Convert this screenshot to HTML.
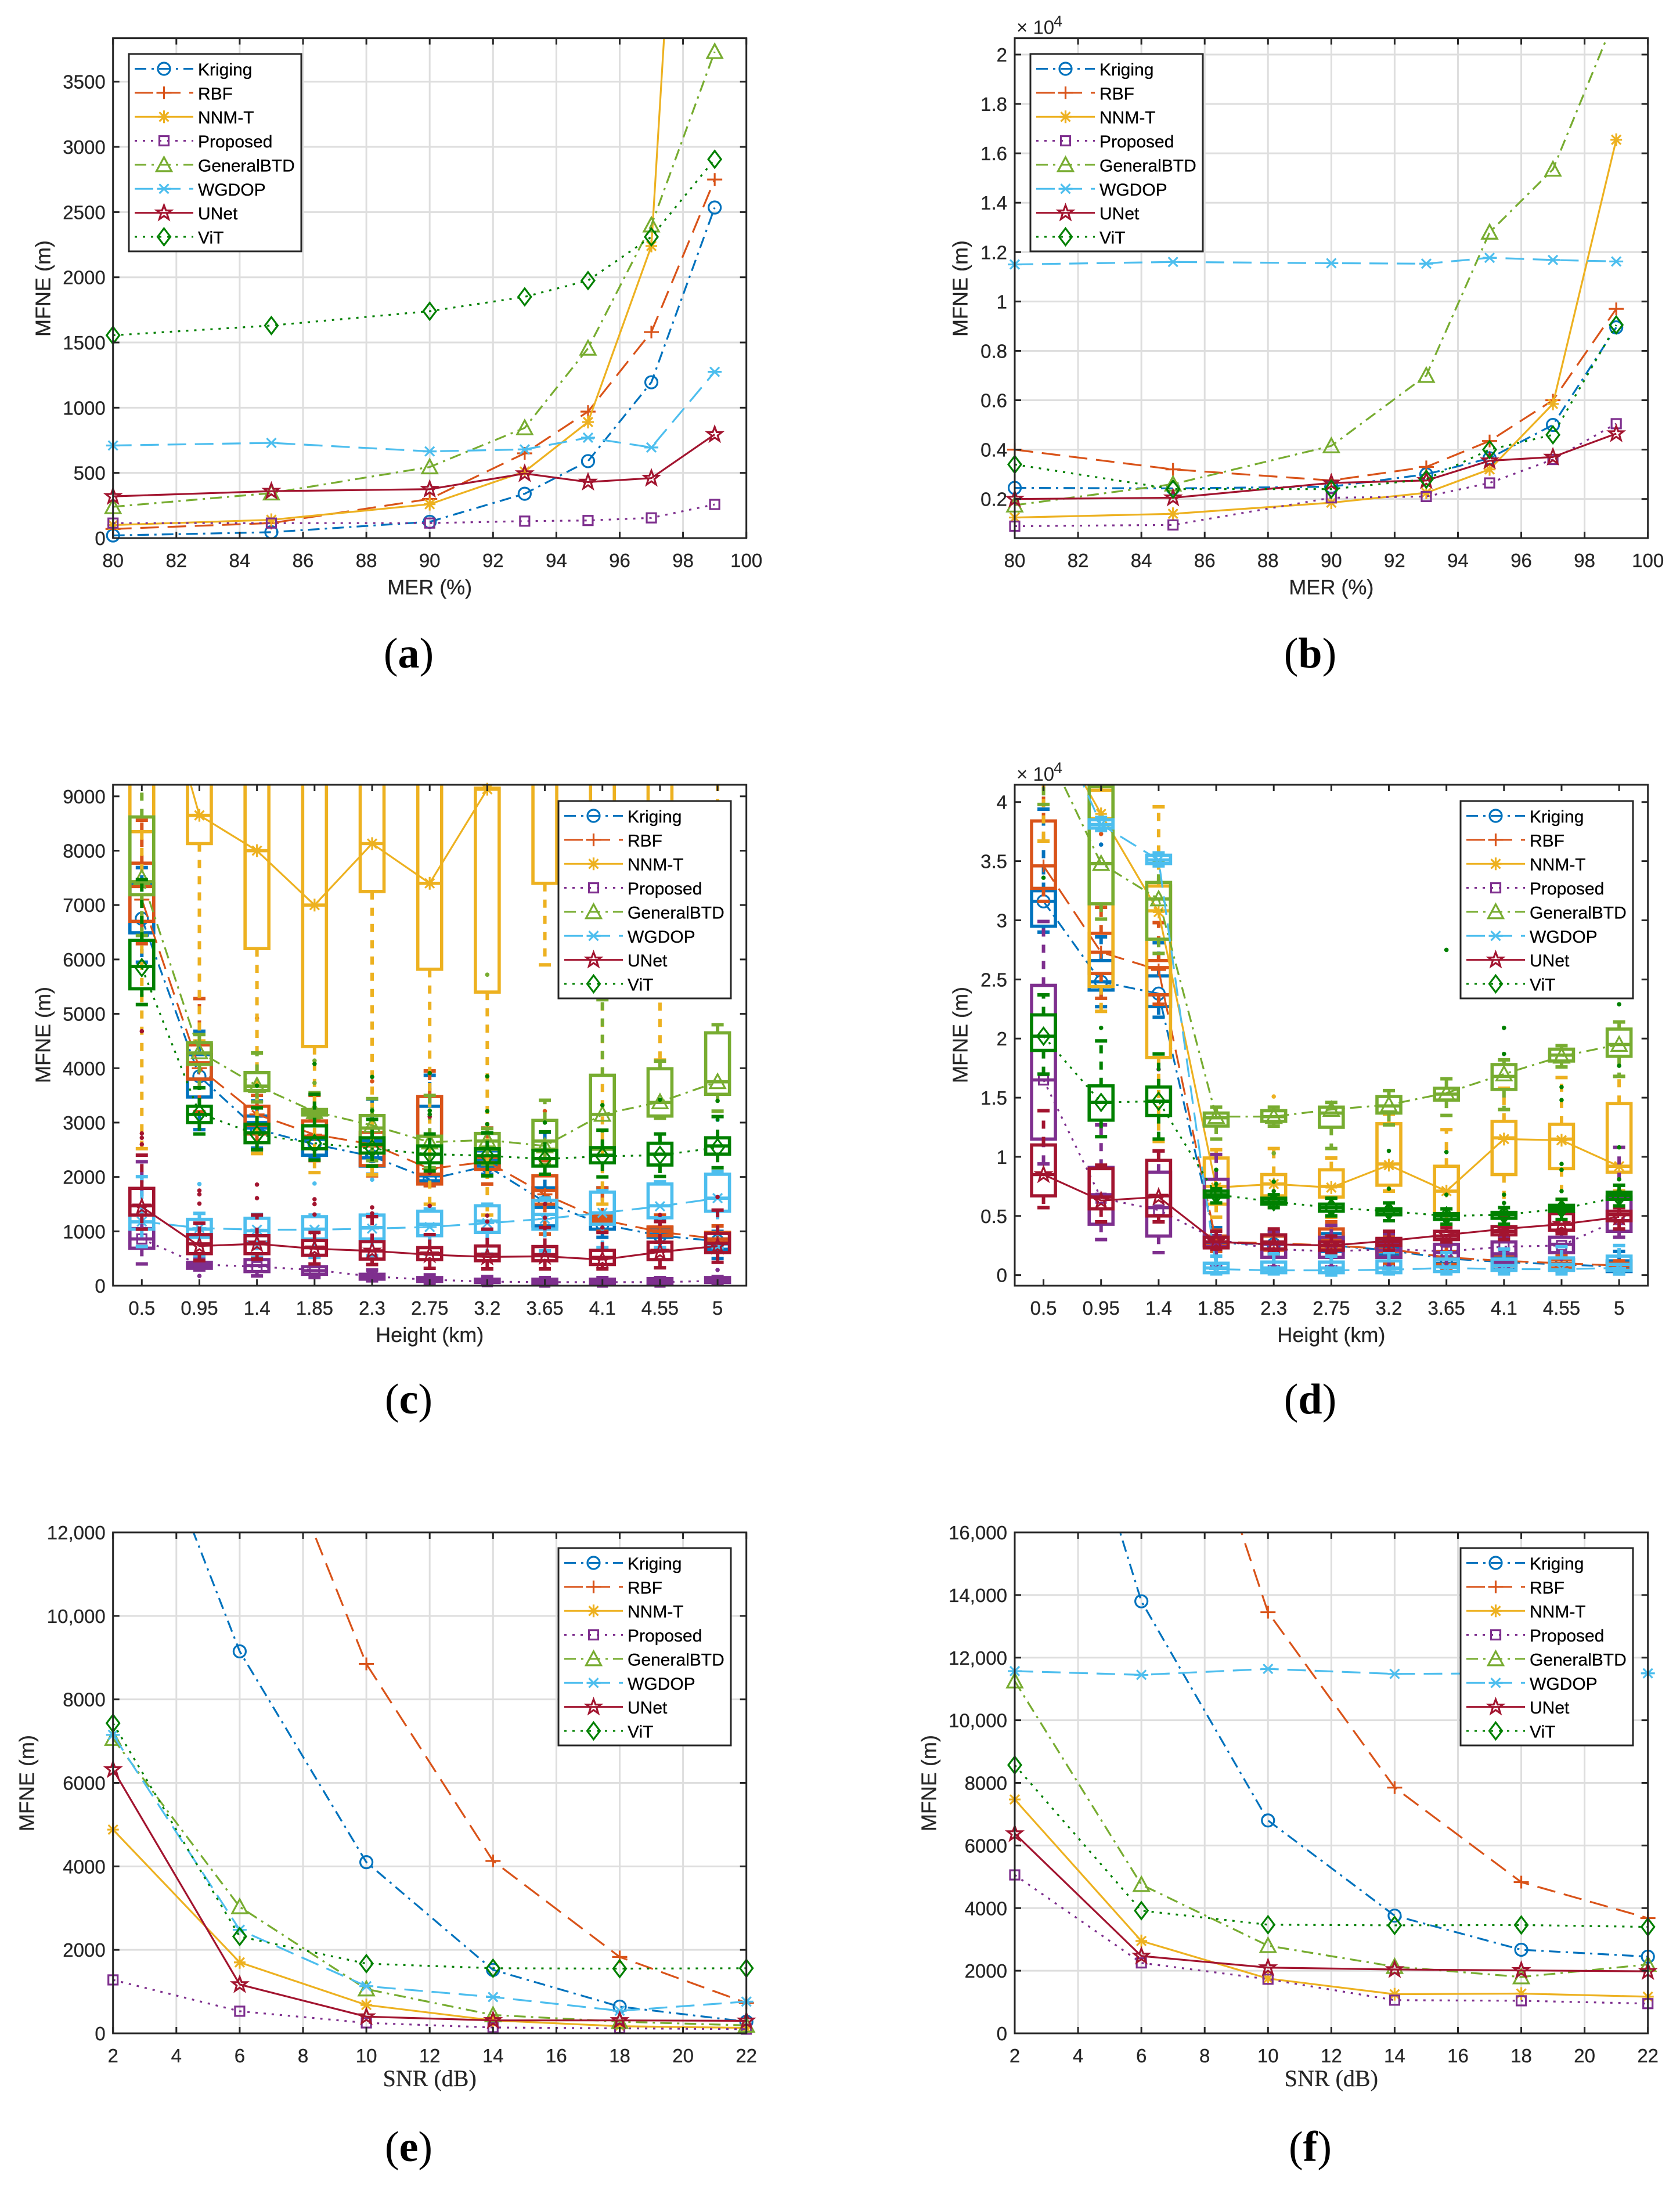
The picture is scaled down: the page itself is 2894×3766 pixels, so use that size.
<!DOCTYPE html>
<html lang="en">
<head>
<meta charset="utf-8">
<title>MFNE comparison charts</title>
<style>
html,body{margin:0;padding:0;background:#fff;}
svg{display:block;font-family:"Liberation Sans",Arial,sans-serif;}
</style>
</head>
<body>
<svg id="figure" xmlns="http://www.w3.org/2000/svg" width="2894" height="3766" viewBox="0 0 2894 3766">
<rect x="0" y="0" width="2894" height="3766" fill="#ffffff"/>
<defs id="clip-defs"></defs>
<g id="panel-a"></g>
<g id="panel-b"></g>
<g id="panel-c"></g>
<g id="panel-d"></g>
<g id="panel-e"></g>
<g id="panel-f"></g>
</svg>
<script>
/* ---------- shared categories ---------- */
const seriesNames = ['Kriging','RBF','NNM-T','Proposed','GeneralBTD','WGDOP','UNet','ViT'];
const merValues = [80,85,90,93,95,97,99];
const merTicks = [80,82,84,86,88,90,92,94,96,98,100];
const heightCategories = ['0.5','0.95','1.4','1.85','2.3','2.75','3.2','3.65','4.1','4.55','5'];
const snrValues = [2,6,10,14,18,22];
const snrTicks = [2,4,6,8,10,12,14,16,18,20,22];

/* ---------- panel a ---------- */
const aKriging = [20,45,125,340,590,1195,2535];
const aRBF = [70,115,300,650,970,1580,2750];
const aNNMT = [100,140,260,510,890,2240,10200];
const aProposed = [115,115,115,130,135,155,258];
const aGeneralBTD = [240,345,545,845,1455,2400,3730];
const aWGDOP = [710,730,665,680,770,695,1275];
const aUNet = [320,360,375,495,430,460,795];
const aViT = [1555,1630,1740,1850,1975,2310,2905];
const aYTicks = [0,500,1000,1500,2000,2500,3000,3500];
const aYLabels = ['0','500','1000','1500','2000','2500','3000','3500'];

/* ---------- panel b (x 10^4) ---------- */
const bKriging = [.245,.243,.25,.30,.365,.50,.895];
const bRBF = [.40,.32,.275,.33,.435,.60,.97];
const bNNMT = [.125,.14,.185,.225,.32,.585,1.655];
const bProposed = [.09,.095,.205,.21,.265,.36,.505];
const bGeneralBTD = [.175,.26,.415,.70,1.28,1.535,2.16];
const bWGDOP = [1.15,1.16,1.155,1.153,1.177,1.168,1.162];
const bUNet = [.20,.205,.265,.275,.355,.37,.465];
const bViT = [.34,.24,.24,.28,.40,.46,.905];
const bYTicks = [.2,.4,.6,.8,1,1.2,1.4,1.6,1.8,2];
const bYLabels = ['0.2','0.4','0.6','0.8','1','1.2','1.4','1.6','1.8','2'];

/* ---------- panel c: means ---------- */
const cMeanKriging = [6750,3850,2880,2600,2380,1960,2200,1540,1130,920,820];
const cMeanRBF = [7100,4000,3150,2780,2600,2150,2280,1680,1210,990,860];
const cMeanNNMT = [12400,8650,8000,7000,8130,7400,9130,16000,18000,16000,15000];
const cMeanProposed = [860,390,350,290,170,110,75,65,65,65,90];
const cMeanGeneralBTD = [7500,4300,3680,3200,2950,2640,2680,2570,3150,3380,3750];
const cMeanWGDOP = [1180,1060,1030,1030,1050,1080,1150,1230,1340,1460,1610];
const cMeanUNet = [1450,730,770,680,640,570,530,540,480,620,730];
const cMeanViT = [5850,3170,2780,2620,2520,2420,2390,2330,2380,2400,2540];
const cYTicks = [0,1000,2000,3000,4000,5000,6000,7000,8000,9000];
const cYLabels = ['0','1000','2000','3000','4000','5000','6000','7000','8000','9000'];

/* panel c: box stats, each entry = lower whisker, Q1, median, Q3, upper whisker */
const cBoxKriging = [[5950,6490,6700,7400,7690],[2870,3470,3800,4250,4680],[2530,2900,3000,3120,3400],[2360,2400,2690,2940,3510],[2050,2200,2350,2660,3430],[1840,1930,2020,3300,3870],[2050,2200,2300,2480,2900],[1070,1100,1440,1800,2820],[890,1040,1160,1250,1800],[700,890,950,1070,1200],[500,670,770,860,1000]];
const cBoxRBF = [[6290,6700,7340,7770,8560],[3200,3800,4100,4430,5280],[2500,2790,2950,3300,3500],[2300,2520,2750,3030,3500],[2020,2210,2570,2820,2900],[1840,1870,2050,3480,3950],[1870,2140,2360,2510,2900],[950,1500,1750,2020,2300],[1000,1160,1220,1280,1800],[800,920,1010,1080,1300],[700,800,860,980,1100]];
const cBoxNNMT = [[2520,8350,9800,12000,15000],[4500,8130,8650,10000,14000],[2430,6200,8000,14000,16000],[2080,4400,7000,13000,16000],[2040,7250,8130,12000,16000],[1500,5820,7400,13000,16000],[1300,5400,9130,9150,12000],[5900,7400,10500,14000,16000],[1500,7000,11000,14000,16000],[4150,7000,11000,14000,16000],[5600,6000,7500,8800,15000]];
const cBoxProposed = [[400,690,860,1050,2280],[290,320,370,430,490],[180,260,370,480,520],[150,210,275,350,400],[90,120,170,210,290],[50,80,120,150,200],[30,60,85,120,170],[5,30,70,120,150],[5,30,70,120,150],[5,30,80,130,150],[30,60,100,150,170]];
const cBoxGeneralBTD = [[6440,7190,7430,8620,9600],[3640,4070,4280,4470,4620],[3380,3590,3670,3920,4280],[3090,3140,3190,3240,3550],[2300,2600,2900,3130,3440],[2170,2420,2570,2750,3500],[2230,2510,2660,2800,2890],[2230,2510,2660,3040,3410],[2860,2510,3150,3870,5260],[3080,3120,3370,3990,4130],[3210,3520,3750,4650,4800]];
const cBoxWGDOP = [[720,1040,1175,1300,2005],[550,890,1040,1220,1330],[520,800,1010,1240,1310],[520,860,1040,1270,1300],[550,860,1070,1300,1310],[580,920,1130,1370,1410],[580,980,1190,1470,1500],[640,1040,1310,1570,1610],[700,1130,1340,1720,1750],[700,1250,1470,1870,1910],[700,1370,1610,2050,2100]];
const cBoxUNet = [[1040,1300,1470,1790,2400],[460,590,770,940,1150],[490,590,770,920,1300],[400,560,700,830,980],[390,490,640,810,1270],[320,480,590,700,940],[310,460,580,730,1040],[310,460,570,720,1070],[310,390,520,650,980],[330,480,640,800,1180],[430,610,780,960,1390]];
const cBoxViT = [[5170,5460,5870,6350,7470],[2790,3000,3150,3300,3640],[2500,2630,2810,2970,3270],[2310,2520,2720,2940,3520],[2200,2440,2600,2720,3060],[2110,2260,2420,2570,2790],[2020,2260,2390,2520,2810],[2050,2200,2340,2490,2830],[2000,2260,2400,2540,2860],[2010,2220,2420,2620,2790],[2170,2420,2570,2720,3110]];

/* panel c: outliers, each entry = category index, value */
const cOutliersRBF = [[2,4920],[3,3500],[4,3760],[6,2750],[7,3210]];
const cOutliersGeneralBTD = [[3,4140],[3,3730],[6,5720]];
const cOutliersWGDOP = [[1,1870],[3,1880],[4,1950],[10,3050]];
const cOutliersUNet = [[0,4680],[0,2800],[0,2720],[0,2600],[1,1750],[1,1680],[1,1510],[2,1860],[2,1610],[3,1590],[3,1500],[3,1310],[4,1440],[4,1330],[5,3110],[5,2080],[5,1470],[6,1290],[6,1180],[7,1500],[7,1250],[8,1070],[9,1300],[10,1630]];
const cOutliersProposed = [[1,180],[10,290]];
const cOutliersViT = [[2,3680],[3,4080],[4,3840],[4,3220],[5,3910],[5,3220],[5,3150],[6,3850],[6,3210],[6,2970],[7,3000],[8,3320],[9,3420],[10,3400]];

/* ---------- panel d (x 10^4): means ---------- */
const dMeanKriging = [3.16,2.48,2.38,.27,.26,.25,.21,.14,.11,.09,.07];
const dMeanRBF = [3.46,2.73,2.58,.28,.27,.25,.22,.15,.12,.10,.08];
const dMeanNNMT = [4.76,3.9,3.07,.74,.77,.74,.93,.71,1.15,1.14,.92];
const dMeanProposed = [1.65,.65,.55,.30,.22,.20,.22,.20,.24,.25,.47];
const dMeanGeneralBTD = [4.5,3.48,3.18,1.34,1.34,1.40,1.44,1.54,1.70,1.85,1.95];
const dMeanWGDOP = [4.9,3.81,3.51,.05,.04,.04,.045,.06,.05,.05,.06];
const dMeanUNet = [.85,.63,.66,.28,.26,.25,.29,.34,.39,.43,.49];
const dMeanViT = [2.02,1.46,1.47,.68,.62,.57,.54,.50,.51,.56,.66];
const dYTicks = [0,.5,1,1.5,2,2.5,3,3.5,4];
const dYLabels = ['0','0.5','1','1.5','2','2.5','3','3.5','4'];

/* panel d: box stats, each entry = lower whisker, Q1, median, Q3, upper whisker */
const dBoxKriging = [[2.9,2.95,3.16,3.25,3.94],[2.27,2.41,2.48,2.66,2.86],[2.18,2.27,2.37,2.53,2.81],[.20,.25,.27,.32,.40],[.18,.22,.27,.33,.37],[.15,.20,.25,.35,.42],[.10,.17,.23,.30,.36],[.06,.10,.14,.20,.27],[.03,.05,.10,.16,.22],[.03,.05,.09,.13,.17],[.01,.03,.07,.12,.20]];
const dBoxRBF = [[3.16,3.27,3.46,3.84,4.3],[2.34,2.55,2.73,2.89,3.11],[2.29,2.37,2.60,2.66,2.98],[.20,.25,.28,.33,.38],[.17,.21,.26,.33,.37],[.18,.22,.30,.39,.45],[.10,.15,.20,.28,.33],[.05,.09,.14,.20,.25],[.05,.08,.11,.17,.22],[.04,.06,.10,.13,.17],[.03,.05,.08,.10,.12]];
const dBoxNNMT = [[3.67,4.3,4.6,5,6],[2.23,2.44,3.86,4.10,4.6],[1.13,1.84,3.08,3.29,3.96],[.49,.60,.75,.99,1.06],[.57,.67,.77,.85,1.07],[.49,.66,.75,.89,.99],[.71,.76,.94,1.28,1.36],[.42,.52,.71,.92,1.23],[.29,.85,1.16,1.30,1.58],[.64,.90,1.15,1.275,1.67],[.71,.87,.92,1.45,1.68]];
const dBoxProposed = [[.94,1.15,1.65,2.45,2.99],[.30,.43,.68,.91,1.27],[.19,.33,.57,.87,1.05],[.08,.24,.28,.81,1.02],[.07,.15,.26,.34,.37],[.07,.15,.21,.32,.42],[.07,.15,.21,.26,.35],[.07,.135,.19,.26,.30],[.06,.11,.18,.28,.32],[.09,.19,.26,.32,.37],[.32,.37,.46,.66,1.08]];
const dBoxGeneralBTD = [[3.98,4.4,4.6,5,6],[3.01,3.14,3.48,4.13,4.5],[2.72,2.84,3.18,3.32,3.5],[1.15,1.26,1.33,1.37,1.42],[1.26,1.30,1.34,1.39,1.42],[1.07,1.25,1.37,1.42,1.46],[1.27,1.37,1.43,1.51,1.56],[1.35,1.48,1.53,1.58,1.66],[1.40,1.57,1.68,1.78,1.82],[1.76,1.81,1.86,1.91,1.94],[1.68,1.85,1.95,2.08,2.14]];
const dBoxWGDOP = [[4.3,4.5,4.9,5.2,5.5],[3.76,3.78,3.81,3.85,3.87],[3.46,3.48,3.51,3.55,3.57],[.01,.02,.06,.10,.16],[.01,.02,.06,.11,.18],[0,.02,.06,.11,.16],[.01,.02,.06,.12,.19],[.01,.03,.07,.135,.19],[.01,.04,.08,.135,.22],[.01,.04,.09,.145,.24],[.01,.04,.09,.16,.25]];
const dBoxUNet = [[.57,.67,.85,1.10,1.39],[.45,.56,.66,.90,.93],[.45,.50,.67,.97,1.05],[.22,.23,.28,.32,.37],[.21,.22,.28,.34,.39],[.19,.21,.25,.28,.33],[.21,.25,.28,.31,.37],[.28,.30,.33,.37,.40],[.30,.34,.37,.41,.49],[.35,.38,.43,.52,.57],[.39,.46,.51,.54,.57]];
const dBoxViT = [[1.70,1.90,2.02,2.20,2.37],[1.17,1.31,1.46,1.60,1.98],[1.15,1.35,1.47,1.59,1.87],[.61,.66,.68,.71,.73],[.57,.60,.62,.65,.68],[.50,.54,.57,.60,.65],[.46,.51,.54,.56,.61],[.43,.47,.50,.52,.56],[.43,.48,.51,.53,.57],[.47,.54,.565,.59,.64],[.585,.64,.675,.70,.76]];

/* panel d: outliers, each entry = category index, value */
const dOutliersKriging = [[1,3.64]];
const dOutliersRBF = [[1,3.73]];
const dOutliersNNMT = [[4,1.51]];
const dOutliersProposed = [[2,1.74]];
const dOutliersGeneralBTD = [[4,1.03]];
const dOutliersViT = [[0,3.36],[1,2.09],[3,.89],[3,.77],[4,.79],[4,.71],[6,1.05],[6,.73],[7,2.75],[7,1.04],[7,.68],[8,2.09],[8,1.87],[8,.68],[8,.61],[9,1.59],[9,1.48],[9,.94],[9,.89],[9,.71],[10,2.29],[10,1.77],[10,1.08],[10,.81]];

/* ---------- panel e ---------- */
const eKriging = [16960,9150,4100,1520,640,280];
const eRBF = [24000,16400,8850,4130,1830,730];
const eNNMT = [4880,1700,680,310,170,130];
const eProposed = [1280,530,250,140,120,100];
const eGeneralBTD = [7060,3030,1060,440,280,190];
const eWGDOP = [7150,2480,1130,870,540,760];
const eUNet = [6320,1170,400,310,310,300];
const eViT = [7430,2320,1670,1560,1550,1560];
const eYTicks = [0,2000,4000,6000,8000,10000,12000];
const eYLabels = ['0','2000','4000','6000','8000','10,000','12,000'];

/* ---------- panel f ---------- */
const fKriging = [26900,13800,6800,3760,2670,2450];
const fRBF = [38000,25600,13450,7850,4830,3680];
const fNNMT = [7470,2950,1750,1250,1270,1170];
const fProposed = [5060,2250,1730,1060,1040,950];
const fGeneralBTD = [11250,4750,2800,2130,1800,2200];
const fWGDOP = [11570,11450,11640,11480,11500,11500];
const fUNet = [6380,2470,2100,2040,2010,1980];
const fViT = [8570,3920,3470,3450,3460,3400];
const fYTicks = [0,2000,4000,6000,8000,10000,12000,14000,16000];
const fYLabels = ['0','2000','4000','6000','8000','10,000','12,000','14,000','16,000'];

/* ---------- styling ---------- */
const NS = 'http://www.w3.org/2000/svg';
const seriesColors = ['#0072BD','#D95319','#EDB120','#7E2F8E','#77AC30','#4DBEEE','#A2142F','#008000'];
const seriesDashes = ['20 9 4 9','32 15','','4 10','20 9 4 9','32 15','','4 10'];
const seriesMarkers = ['circle','plus','asterisk','square','triangle','cross','star','diamond'];
const axisInk = '#262626';

function addEl(parent, tag, attrs, text) {
  const el = document.createElementNS(NS, tag);
  for (const k in attrs) el.setAttribute(k, attrs[k]);
  if (text !== undefined) el.textContent = text;
  parent.appendChild(el);
  return el;
}

function drawMarker(parent, kind, x, y, color) {
  const g = addEl(parent, 'g', {transform: 'translate(' + x + ' ' + y + ')', fill: 'none', stroke: color, 'stroke-width': 3.2});
  if (kind === 'circle') {
    addEl(g, 'circle', {cx: 0, cy: 0, r: 10.5});
  } else if (kind === 'plus') {
    addEl(g, 'path', {d: 'M-13 0H13M0 -11V11'});
  } else if (kind === 'asterisk') {
    addEl(g, 'path', {d: 'M-10 0H10M0 -11V11M-8 -8L8 8M-8 8L8 -8'});
  } else if (kind === 'square') {
    addEl(g, 'rect', {x: -8, y: -8, width: 16, height: 16});
  } else if (kind === 'triangle') {
    addEl(g, 'path', {d: 'M0 -13L13 11H-13Z'});
  } else if (kind === 'cross') {
    addEl(g, 'path', {d: 'M-8 -8L8 8M-8 8L8 -8M-12 0H12'});
  } else if (kind === 'star') {
    addEl(g, 'path', {d: 'M0 -13L3.4 -4H12.5L5.2 1.8L8 11L0 5.5L-8 11L-5.2 1.8L-12.5 -4H-3.4Z'});
  } else {
    addEl(g, 'path', {d: 'M0 -14.5L11 0L0 14.5L-11 0Z'});
  }
  return g;
}

function drawFrame(panel, g, sx, sy, xTickVals, yTickVals, xLabels, yLabels) {
  const L = panel.left, R = panel.right, T = panel.top, B = panel.bottom;
  if (panel.grid) {
    const grid = addEl(g, 'g', {stroke: '#dedede', 'stroke-width': 3});
    
    
    xTickVals.forEach(function (v) {
      const ln = addEl(grid, 'line', {x1: sx(v), x2: sx(v), y1: T, y2: B});
      
      
    });
    yTickVals.forEach(function (v) {
      const ln = addEl(grid, 'line', {x1: L, x2: R, y1: sy(v), y2: sy(v)});
      
      
    });
  }
}

function drawAxes(panel, g, sx, sy, xTickVals, yTickVals, xLabels, yLabels) {
  const L = panel.left, R = panel.right, T = panel.top, B = panel.bottom;
  const ticks = addEl(g, 'g', {stroke: axisInk, 'stroke-width': 3});
  
  
  xTickVals.forEach(function (v, i) {
    const a = addEl(ticks, 'line', {x1: sx(v), x2: sx(v), y1: B, y2: B - 11});
    
    
    const b = addEl(ticks, 'line', {x1: sx(v), x2: sx(v), y1: T, y2: T + 11});
    
    
    const t = addEl(g, 'text', {x: sx(v), y: B + 50, 'text-anchor': 'middle', 'font-size': 33, fill: axisInk, stroke: axisInk, 'stroke-width': 0.3}, xLabels[i]);
    
    
  });
  yTickVals.forEach(function (v, i) {
    const a = addEl(ticks, 'line', {x1: L, x2: L + 11, y1: sy(v), y2: sy(v)});
    
    
    const b = addEl(ticks, 'line', {x1: R, x2: R - 11, y1: sy(v), y2: sy(v)});
    
    
    const t = addEl(g, 'text', {x: L - 13, y: sy(v) + 12, 'text-anchor': 'end', 'font-size': 33, fill: axisInk, stroke: axisInk, 'stroke-width': 0.3}, yLabels[i]);
    
    
  });
  const frame = addEl(g, 'rect', {x: L, y: T, width: R - L, height: B - T, fill: 'none', stroke: axisInk, 'stroke-width': 3});
  
  

  const xTitle = addEl(g, 'text', {
    x: (L + R) / 2, y: B + panel.xTitleOffset, 'text-anchor': 'middle',
    'font-size': panel.xTitleSerif ? 40 : 36, fill: axisInk, stroke: axisInk, 'stroke-width': 0.3,
    'font-family': panel.xTitleSerif ? '"Liberation Serif",serif' : '"Liberation Sans",sans-serif'
  }, panel.xTitle);
  
  

  const cy = panel.yTitleY;
  const yTitle = addEl(g, 'text', {
    x: panel.yTitleX, y: cy, 'text-anchor': 'middle', 'font-size': 36, fill: axisInk, stroke: axisInk, 'stroke-width': 0.3,
    transform: 'rotate(-90 ' + panel.yTitleX + ' ' + cy + ')', 'dominant-baseline': 'central'
  }, 'MFNE (m)');
  
  

  if (panel.exponent) {
    const ex = addEl(g, 'text', {x: L + 3, y: T - 7, 'font-size': 33, fill: axisInk}, '\u00d7 10');
    
    
    const ex2 = addEl(g, 'text', {x: L + 67, y: T - 20, 'font-size': 27, fill: axisInk}, '4');
    
    
  }

  const cap = addEl(g, 'text', {x: panel.captionX, y: panel.captionY, 'text-anchor': 'middle', 'font-size': 74, fill: '#000', 'font-family': '"Liberation Serif",serif'});
  
  
  addEl(cap, 'tspan', {}, '(');
  addEl(cap, 'tspan', {'font-weight': 'bold'}, panel.caption);
  addEl(cap, 'tspan', {}, ')');
}

function drawLegend(panel, g) {
  const lx = panel.legendX, ly = panel.legendY;
  const legend = addEl(g, 'g', {});
  
  
  const box = addEl(legend, 'rect', {x: lx, y: ly, width: 297, height: 340, fill: '#fff', stroke: axisInk, 'stroke-width': 3});
  
  
  seriesNames.forEach(function (name, i) {
    const y = ly + 25.5 + i * 41.35;
    const entry = addEl(legend, 'g', {});
    
    
    const ln = addEl(entry, 'line', {x1: lx + 10, x2: lx + 111, y1: y, y2: y, stroke: seriesColors[i], 'stroke-width': 3, 'stroke-dasharray': seriesDashes[i]});
    
    
    const mk = drawMarker(entry, seriesMarkers[i], lx + 60.5, y, seriesColors[i]);
    
    
    const t = addEl(entry, 'text', {x: lx + 119, y: y + 11.5, 'font-size': 30, fill: '#000', stroke: '#000', 'stroke-width': 0.3}, name);
    
    
  });
}

function drawSeriesLine(panel, g, clipId, xs, values, i, sx, sy) {
  const group = addEl(g, 'g', {});
  
  
  const pts = values.map(function (v, k) { return sx(xs[k]) + ',' + sy(v); }).join(' ');
  const clip = addEl(group, 'g', {'clip-path': 'url(#' + clipId + ')'});
  const pl = addEl(clip, 'polyline', {points: pts, fill: 'none', stroke: seriesColors[i], 'stroke-width': panel.lineWidth, 'stroke-dasharray': seriesDashes[i]});
  
  
  values.forEach(function (v, k) {
    if (v <= panel.yMax && v >= panel.yMin && xs[k] <= panel.xMax) {
      const m = drawMarker(group, seriesMarkers[i], sx(xs[k]), sy(v), seriesColors[i]);
      
      
    }
  });
}

function drawBoxes(panel, g, clipId, boxes, outliers, i, sx, sy) {
  const color = seriesColors[i];
  const group = addEl(g, 'g', {'clip-path': 'url(#' + clipId + ')', stroke: color, fill: 'none', 'stroke-width': 5});
  
  
  boxes.forEach(function (b, k) {
    const x = sx(k + 1);
    const lo = sy(b[0]), q1 = sy(b[1]), med = sy(b[2]), q3 = sy(b[3]), hi = sy(b[4]);
    const wh1 = addEl(group, 'line', {x1: x, x2: x, y1: q3, y2: hi, 'stroke-dasharray': '14 14', 'stroke-width': 6});
    
    
    const wh2 = addEl(group, 'line', {x1: x, x2: x, y1: q1, y2: lo, 'stroke-dasharray': '14 14', 'stroke-width': 6});
    
    
    const c1 = addEl(group, 'line', {x1: x - 10.5, x2: x + 10.5, y1: hi, y2: hi, 'stroke-width': 6});
    
    
    const c2 = addEl(group, 'line', {x1: x - 10.5, x2: x + 10.5, y1: lo, y2: lo, 'stroke-width': 6});
    
    
    const r = addEl(group, 'rect', {x: x - 20.5, y: Math.min(q1, q3), width: 41, height: Math.abs(q1 - q3), 'stroke-width': 5.6});
    
    
    const m = addEl(group, 'line', {x1: x - 20.5, x2: x + 20.5, y1: med, y2: med, 'stroke-width': 5.6});
    
    
  });
  outliers.forEach(function (o) {
    const dot = addEl(group, 'ellipse', {cx: sx(o[0] + 1), cy: sy(o[1]), rx: 3.8, ry: 3.8, fill: color, stroke: 'none'});
    
    
  });
}

function panelScales(panel) {
  const sx = function (v) { return panel.left + (v - panel.xMin) / (panel.xMax - panel.xMin) * (panel.right - panel.left); };
  const sy = function (v) { return panel.bottom - (v - panel.yMin) / (panel.yMax - panel.yMin) * (panel.bottom - panel.top); };
  return {sx: sx, sy: sy};
}

function renderLinePanel(panel, xs, seriesValues, xTicks, yTicks, yLabels) {
  const g = document.getElementById(panel.id);
  const s = panelScales(panel);
  const clipId = addClip(panel);
  const xLabels = xTicks.map(String);
  drawFrame(panel, g, s.sx, s.sy, xTicks, yTicks, xLabels, yLabels);
  seriesValues.forEach(function (vals, i) { drawSeriesLine(panel, g, clipId, xs, vals, i, s.sx, s.sy); });
  drawAxes(panel, g, s.sx, s.sy, xTicks, yTicks, xLabels, yLabels);
  drawLegend(panel, g);
}

function renderBoxPanel(panel, boxes, means, outliers, yTicks, yLabels) {
  const g = document.getElementById(panel.id);
  const s = panelScales(panel);
  const clipId = addClip(panel);
  const positions = heightCategories.map(function (c, k) { return k + 1; });
  boxes.forEach(function (b, i) {
    drawBoxes(panel, g, clipId, b, outliers[i], i, s.sx, s.sy);
    drawSeriesLine(panel, g, clipId, positions, means[i], i, s.sx, s.sy);
  });
  drawAxes(panel, g, s.sx, s.sy, positions, yTicks, heightCategories, yLabels);
  drawLegend(panel, g);
}

function addClip(panel) {
  const id = 'clip-' + panel.id;
  const c = addEl(document.getElementById('clip-defs'), 'clipPath', {id: id});
  addEl(c, 'rect', {x: panel.left, y: panel.top, width: panel.right - panel.left, height: panel.bottom - panel.top});
  return id;
}

const LEFT_A = 194.7, RIGHT_A = 1285.7, LEFT_B = 1748, RIGHT_B = 2838.7;

renderLinePanel({
  id: 'panel-a', left: LEFT_A, right: RIGHT_A, top: 65.7, bottom: 927, xMin: 80, xMax: 100, yMin: 0, yMax: 3834,
  grid: true, lineWidth: 3.2, xTitle: 'MER (%)', xTitleOffset: 97, yTitleX: 74, yTitleY: 497,
  caption: 'a', captionX: 704, captionY: 1150, legendX: 222, legendY: 93
}, merValues, [aKriging,aRBF,aNNMT,aProposed,aGeneralBTD,aWGDOP,aUNet,aViT], merTicks, aYTicks, aYLabels);

renderLinePanel({
  id: 'panel-b', left: LEFT_B, right: RIGHT_B, top: 65.7, bottom: 927, xMin: 80, xMax: 100, yMin: .0417, yMax: 2.0665,
  grid: true, lineWidth: 3.2, xTitle: 'MER (%)', xTitleOffset: 97, yTitleX: 1654, yTitleY: 497, exponent: true,
  caption: 'b', captionX: 2257, captionY: 1150, legendX: 1775, legendY: 93
}, merValues, [bKriging,bRBF,bNNMT,bProposed,bGeneralBTD,bWGDOP,bUNet,bViT], merTicks, bYTicks, bYLabels);

renderBoxPanel({
  id: 'panel-c', left: LEFT_A, right: RIGHT_A, top: 1352, bottom: 2215, xMin: .5, xMax: 11.5, yMin: 0, yMax: 9212,
  grid: false, lineWidth: 3.2, xTitle: 'Height (km)', xTitleOffset: 97, yTitleX: 74, yTitleY: 1783,
  caption: 'c', captionX: 704, captionY: 2435, legendX: 962, legendY: 1380
}, [cBoxKriging,cBoxRBF,cBoxNNMT,cBoxProposed,cBoxGeneralBTD,cBoxWGDOP,cBoxUNet,cBoxViT],
   [cMeanKriging,cMeanRBF,cMeanNNMT,cMeanProposed,cMeanGeneralBTD,cMeanWGDOP,cMeanUNet,cMeanViT],
   [[],cOutliersRBF,[],cOutliersProposed,cOutliersGeneralBTD,cOutliersWGDOP,cOutliersUNet,cOutliersViT], cYTicks, cYLabels);

renderBoxPanel({
  id: 'panel-d', left: LEFT_B, right: RIGHT_B, top: 1352, bottom: 2215, xMin: .5, xMax: 11.5, yMin: -.09, yMax: 4.146,
  grid: false, lineWidth: 3.2, xTitle: 'Height (km)', xTitleOffset: 97, yTitleX: 1654, yTitleY: 1783, exponent: true,
  caption: 'd', captionX: 2257, captionY: 2435, legendX: 2516, legendY: 1380
}, [dBoxKriging,dBoxRBF,dBoxNNMT,dBoxProposed,dBoxGeneralBTD,dBoxWGDOP,dBoxUNet,dBoxViT],
   [dMeanKriging,dMeanRBF,dMeanNNMT,dMeanProposed,dMeanGeneralBTD,dMeanWGDOP,dMeanUNet,dMeanViT],
   [dOutliersKriging,dOutliersRBF,dOutliersNNMT,dOutliersProposed,dOutliersGeneralBTD,[],[],dOutliersViT], dYTicks, dYLabels);

renderLinePanel({
  id: 'panel-e', left: LEFT_A, right: RIGHT_A, top: 2640, bottom: 3503, xMin: 2, xMax: 22, yMin: 0, yMax: 12000,
  grid: true, lineWidth: 3.2, xTitle: 'SNR (dB)', xTitleOffset: 91, xTitleSerif: true, yTitleX: 46, yTitleY: 3072,
  caption: 'e', captionX: 704, captionY: 3723, legendX: 962, legendY: 2667
}, snrValues, [eKriging,eRBF,eNNMT,eProposed,eGeneralBTD,eWGDOP,eUNet,eViT], snrTicks, eYTicks, eYLabels);

renderLinePanel({
  id: 'panel-f', left: LEFT_B, right: RIGHT_B, top: 2640, bottom: 3503, xMin: 2, xMax: 22, yMin: 0, yMax: 16000,
  grid: true, lineWidth: 3.2, xTitle: 'SNR (dB)', xTitleOffset: 91, xTitleSerif: true, yTitleX: 1600, yTitleY: 3072,
  caption: 'f', captionX: 2257, captionY: 3723, legendX: 2516, legendY: 2667
}, snrValues, [fKriging,fRBF,fNNMT,fProposed,fGeneralBTD,fWGDOP,fUNet,fViT], snrTicks, fYTicks, fYLabels);
</script>
</body>
</html>
